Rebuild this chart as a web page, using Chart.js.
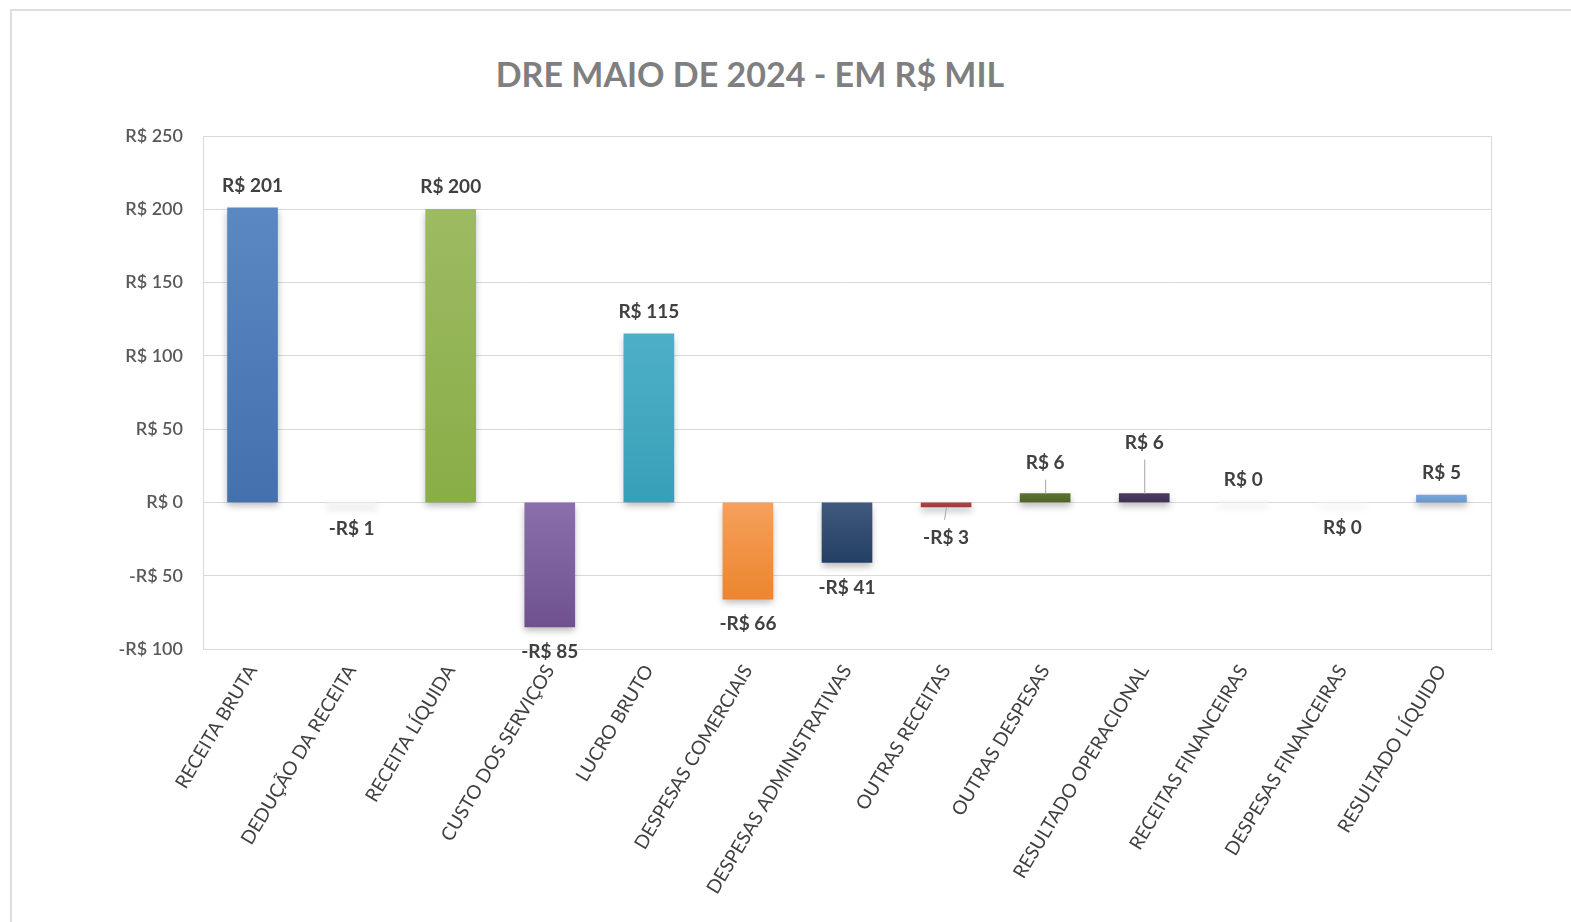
<!DOCTYPE html>
<html>
<head>
<meta charset="utf-8">
<script src="https://cdn.jsdelivr.net/npm/chart.js@4"></script>
<style>
    html, body { margin: 0; padding: 0; background: #fff; overflow: hidden; }
    #frame {
        position: absolute; left: 10px; top: 9px; width: 1600px; height: 960px;
        border: 2px solid #dedede; box-sizing: border-box;
    }
    #title {
        position: absolute; top: 53px; left: 0; width: 1500px; text-align: center;
        font: bold 34px Lato, "Open Sans", sans-serif; color: #7f7f7f;
    }
    #dreChart { position: absolute; left: 0; top: 0; }
</style>
</head>
<body>
<div id="frame"></div>
<div id="title">DRE MAIO DE 2024 - EM R$ MIL</div>
<canvas id="dreChart" width="1571" height="922"></canvas>
<script>
// categorias e valores (R$ mil)
const categorias = [
    'RECEITA BRUTA', 'DEDUÇÃO DA RECEITA', 'RECEITA LÍQUIDA', 'CUSTO DOS SERVIÇOS',
    'LUCRO BRUTO', 'DESPESAS COMERCIAIS', 'DESPESAS ADMINISTRATIVAS', 'OUTRAS RECEITAS',
    'OUTRAS DESPESAS', 'RESULTADO OPERACIONAL', 'RECEITAS FINANCEIRAS',
    'DESPESAS FINANCEIRAS', 'RESULTADO LÍQUIDO'
];
const valores = [201, -1, 200, -85, 115, -66, -41, -3, 6, 6, 0.2, -0.2, 5];
const yTicks = [-100, -50, 0, 50, 100, 150, 200, 250];

// cores (topo, base) de cada barra
const coresBarra = [
    ['#5b88c2', '#4470ae'], ['#f3f3f3', '#f3f3f3'], ['#9dbb62', '#89ad47'],
    ['#8a6fac', '#6f5190'], ['#4eb0c8', '#389fb8'], ['#f5a05d', '#ec852e'],
    ['#405a7e', '#233f63'], ['#b04545', '#a03a3a'], ['#5a7530', '#4f6228'],
    ['#4a3a60', '#3f3151'], ['#f3f3f3', '#f3f3f3'], ['#f3f3f3', '#f3f3f3'],
    ['#79a5d9', '#6a97d0']
];
// rótulos deslocados com linha de chamada (px)
const deslocRotulo = { 7: 6, 8: 9, 9: 29 };

function fmtReal(v) {
    const r = Math.round(v);
    return r < 0 ? '-R$ ' + Math.abs(r) : 'R$ ' + Math.abs(r);
}

function barGradient(context) {
    const chart = context.chart;
    const i = context.dataIndex;
    if (i === undefined) return '#cccccc';
    const cols = coresBarra[i];
    const ys = chart.scales.y;
    if (!ys || !chart.chartArea) return cols[0];
    const p0 = ys.getPixelForValue(0);
    const p1 = ys.getPixelForValue(valores[i]);
    if (!Number.isFinite(p0) || !Number.isFinite(p1)) return cols[0];
    const top = Math.min(p0, p1), bot = Math.max(p0, p1);
    if (bot - top < 1) return cols[0];
    const g = chart.ctx.createLinearGradient(0, top, 0, bot);
    g.addColorStop(0, cols[0]);
    g.addColorStop(1, cols[1]);
    return g;
}

const rotulosPlugin = {
    id: 'rotulos',
    beforeDatasetsDraw(chart) {
        const ctx = chart.ctx;
        ctx.save();
        ctx.shadowColor = 'rgba(0,0,0,0.28)';
        ctx.shadowBlur = 7;
        ctx.shadowOffsetY = 4;
    },
    afterDatasetsDraw(chart) {
        const ctx = chart.ctx;
        ctx.restore();
        const meta = chart.getDatasetMeta(0);
        ctx.save();
        ctx.font = 'bold 19px Lato, "Open Sans", sans-serif';
        ctx.fillStyle = '#404040';
        ctx.textAlign = 'center';
        ctx.textBaseline = 'middle';
        meta.data.forEach((bar, i) => {
            const v = valores[i];
            const shift = deslocRotulo[i] || 0;
            const y = v >= 0 ? bar.y - 22 - shift : bar.y + 25 + shift;
            ctx.fillText(fmtReal(v), bar.x, y);
            if (shift) {
                const end = v >= 0 ? y + 17 : y - 18;
                ctx.strokeStyle = '#a6a6a6';
                ctx.lineWidth = 1;
                ctx.beginPath();
                ctx.moveTo(bar.x + 0.5, bar.y);
                ctx.lineTo(bar.x + 0.5 - (v < 0 ? 2 : 0), end);
                ctx.stroke();
            }
        });
        ctx.restore();
    }
};

const ctx = document.getElementById('dreChart').getContext('2d');
new Chart(ctx, {
    type: 'bar',
    data: {
        labels: categorias,
        datasets: [{
            label: 'DRE',
            data: valores,
            backgroundColor: barGradient,
            borderWidth: 0,
            barThickness: 50
        }]
    },
    options: {
        responsive: false,
        animation: false,
        layout: { padding: { top: 136, right: 80, bottom: 0, left: 0 } },
        plugins: {
            legend: { display: false },
            tooltip: { enabled: false }
        },
        scales: {
            x: {
                grid: { display: false },
                border: { display: false },
                ticks: {
                    autoSkip: false,
                    minRotation: 59,
                    maxRotation: 59,
                    padding: 4,
                    color: '#404040',
                    font: { family: 'Lato, "Open Sans", sans-serif', size: 19 }
                },
                afterFit: s => { s.height = 273; }
            },
            y: {
                min: -100,
                max: 250,
                afterBuildTicks: s => { s.ticks = yTicks.map(v => ({ value: v })); },
                grid: { color: '#d9d9d9', lineWidth: 1, drawTicks: false },
                border: { color: '#d9d9d9' },
                ticks: {
                    padding: 20,
                    color: '#595959',
                    font: { family: 'Lato, "Open Sans", sans-serif', size: 18, weight: '600' },
                    callback: v => fmtReal(v)
                },
                afterFit: s => { s.width = 203; }
            },
            y2: {
                position: 'right',
                min: -100,
                max: 250,
                grid: { drawOnChartArea: false, drawTicks: false },
                border: { color: '#d9d9d9' },
                ticks: { display: false },
                afterFit: s => { s.width = 0; }
            }
        }
    },
    plugins: [rotulosPlugin]
});
</script>
</body>
</html>
